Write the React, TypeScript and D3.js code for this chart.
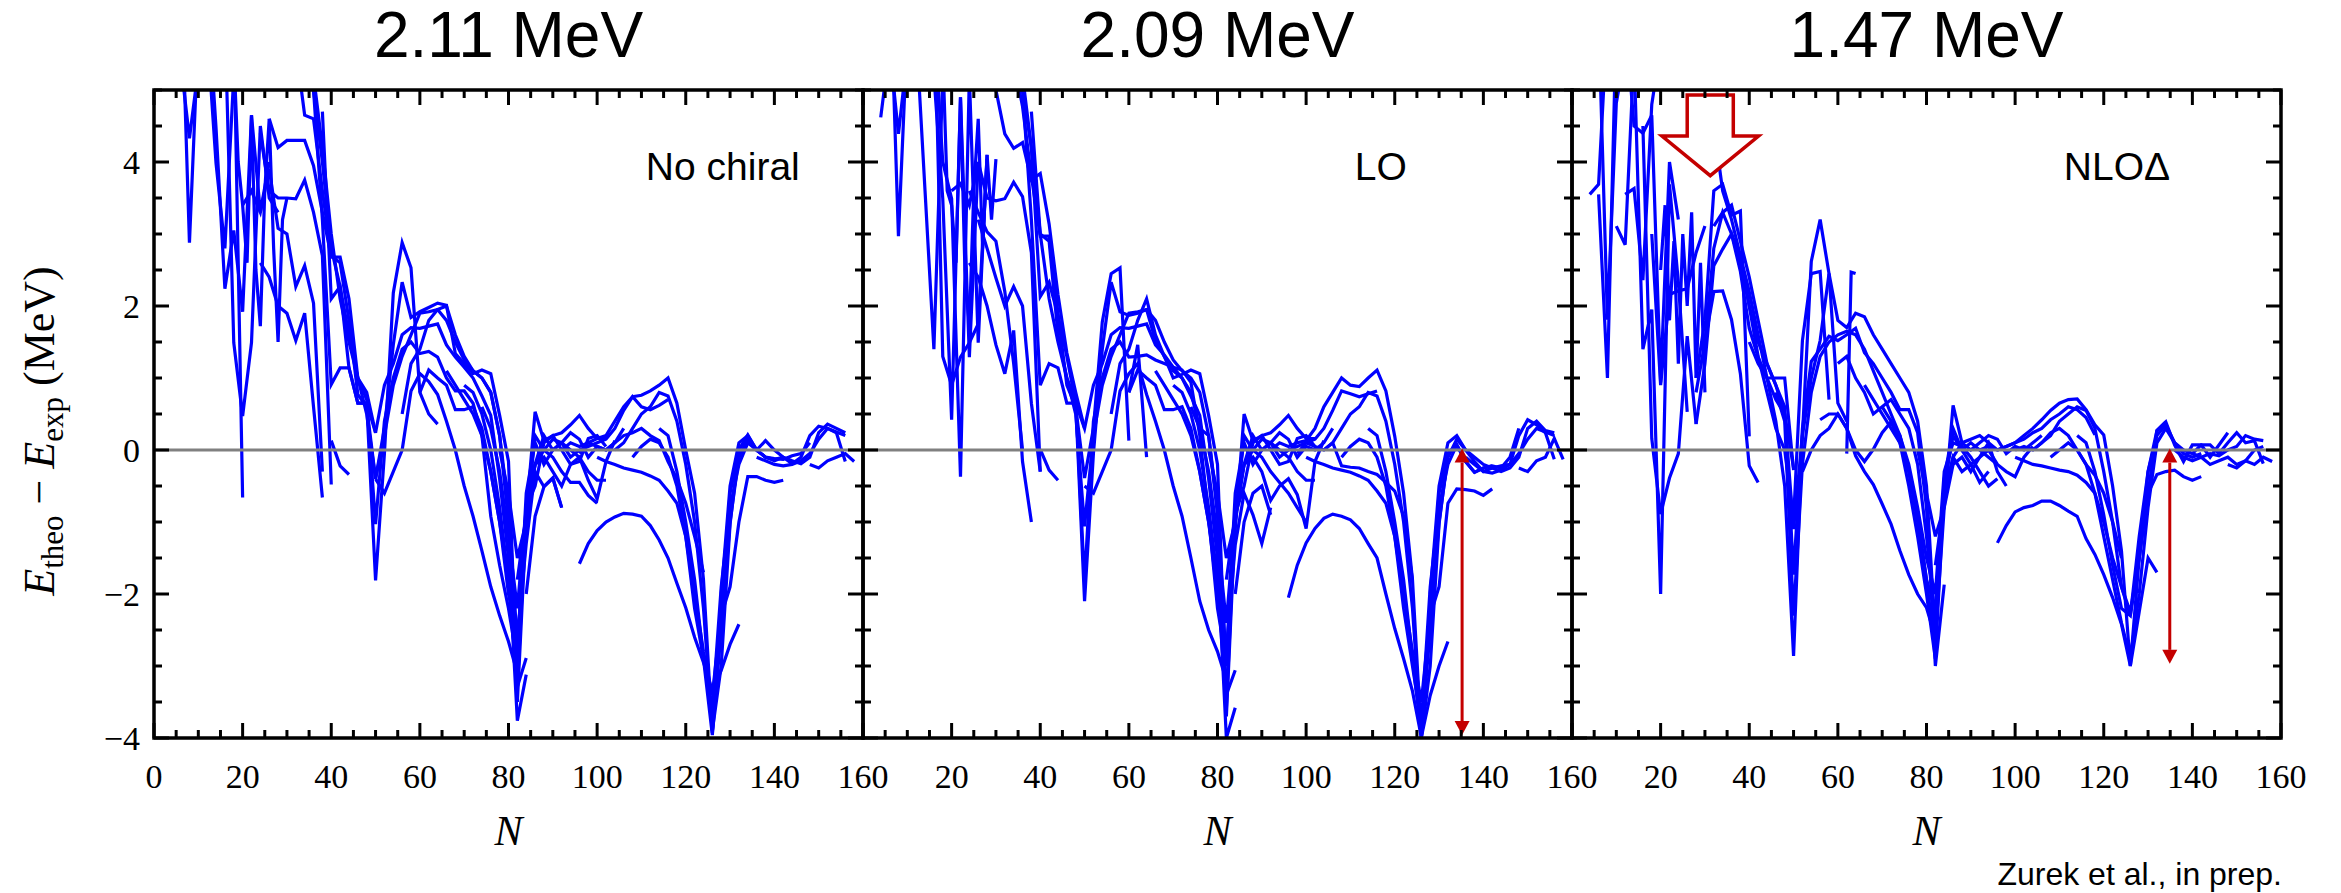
import React from 'react';
import * as d3 from 'd3';

type Chain = { n: number; d?: number; e: number[] };

const panelTitles = ['2.11 MeV', '2.09 MeV', '1.47 MeV'];
const panelLabels = ['No chiral', 'LO', 'NLO\u0394'];
const xTickValues = [0, 20, 40, 60, 80, 100, 120, 140, 160];
const yTickValues = [-4, -2, 0, 2, 4];

// isotopic chains: first N, step in N (default 2), E_theo - E_exp in MeV
const chainsNoChiral: Chain[] = [
  { n: 4, e: [6.2, 5.4, 4.33, 5.3, 6.5] },
  { n: 6, e: [6.8, 2.88, 5.8, 6.6] },
  { n: 10, e: [6.6, 5.8, 3.98, 2.8, 5.2, 6.0] },
  { n: 12, e: [6.4, 4.47, 2.24, 3.05, 1.92, 4.65, 3.3, 4.0] },
  { n: 14, e: [6.8, 6.0, 1.49, 0.47, 1.49, 4.5, 3.5, 3.3] },
  { n: 16, e: [6.5, 5.9, -0.66] },
  { n: 18, d: 1, e: [5.5, 4.0, 3.4, 2.6, 4.65, 2.5, 1.72, 3.6, 4.6, 2.8, 1.5, 3.2, 3.5] },
  { n: 20, e: [3.4, 3.6, 3.3, 3.9, 3.08, 3.0, 2.27, 2.56, 2.04, -0.3] },
  { n: 24, e: [2.6, 2.4, 2.0, 1.9, 1.52, 1.9, 0.6, -0.66] },
  { n: 24, e: [4.4, 3.6, 3.5, 3.5, 3.49, 3.75, 3.3, 2.7, -0.48] },
  { n: 26, e: [4.6, 4.2, 4.3, 4.3, 4.3, 3.95, 3.3, 2.68, 2.68, 2.1, 1.0, 0.8, 0.24] },
  { n: 30, e: [6.0, 5.6, 4.65, 4.6, 3.6, 2.7, 2.6, 1.8, 0.77, 0.6, -0.4, 0.3, 1.46, 2.33, 1.84, 1.92, 1.98, 2.04, 2.01, 1.34, 1.2, 1.06, 1.11, 1.06, 0.48, -0.16, -3.29, -2.89] },
  { n: 32, e: [6.5, 5.8, 5.0, 4.0, 2.8, 2.27, 1.14, 0.65, 0.65, -1.81, -0.05, 2.18, 2.88, 2.53, 0.8, 0.5, 0.36] },
  { n: 34, e: [6.0, 5.2, 4.2, 3.0, 2.1, 1.5, 1.0, 0.7, -1.03, 0.4, 1.0, 1.4, 1.5, 1.34, 1.37, 1.29, 1.0, 0.82, 0.82, 0.65, 0.2, -0.92, -1.6, -2.2, -2.95] },
  { n: 36, e: [5.0, 3.2, 0.91, 1.14, 1.14, 0.65, 0.65, 0.24, 0.9, 1.2, 1.6, 1.7, 1.69, 1.72, 1.75, 1.46, 1.29, 1.15, 1.0, 0.75, 0.48, -0.4, -1.5, -3.76, -3.12] },
  { n: 40, e: [0.13, -0.22, -0.34] },
  { n: 38, e: [4.7, 2.1, 2.27, 1.6, 1.0, 0.5, -0.4, 0.2, 0.9, 1.3, 1.6, 1.9, 1.92, 1.95, 1.8, 1.5, 1.25, 1.1, 1.0, 0.8, 0.2, -0.8, -2.7, -0.9, 0.53, 0.13, 0.2, 0.24, 0.35, 0.48, 0.3, 0.16, 0.16] },
  { n: 50, e: [-0.4, -0.6, -0.3, 0.0, 0.82, 1.06, 0.95, 0.77, 0.4, 0.0, -0.5, -0.92, -1.4, -1.9, -2.3, -2.66, -3.1] },
  { n: 56, e: [0.5, 1.2, 1.4, 1.8, 1.95, 2.0, 1.6, 1.3, 1.1, 1.0, 0.8, 0.2, -1.0, -3.5, -1.0, 0.2, 0.0, 0.15, 0.1, -0.1, 0.0] },
  { n: 60, e: [0.8, 1.11, 1.0, 0.9, 0.56, 0.56, 0.6, 0.3, -0.3, -1.0, -1.8, -2.9, -0.6, 0.1, -0.2, 0.0, 0.1, 0.0, -0.1, -0.3, -0.42, -0.42] },
  { n: 66, e: [1.1, 0.9, 0.7, 0.5, 0.2, -0.3, -1.0, -2.0, -2.6, -1.3, -0.3, -0.51, -0.39, -0.8] },
  { n: 70, e: [0.9, 0.8, 0.5, 0.0, -0.8, -1.8, -3.3, -0.8, -0.2, 0.0, -0.1, -0.3, -0.45, -0.45, -0.63, -0.74] },
  { n: 74, e: [0.6, 0.3, -0.3, -1.2, -2.2, -0.8, -0.5, 0.1, 0.2, 0.0, -0.2, -0.16, 0.16, 0.2, 0.05] },
  { n: 78, e: [0.0, -0.6, -1.5, -1.0, -0.2, -0.1, -0.3, -0.5, -0.2, -0.1, -0.42, -0.68, -0.16, 0.13] },
  { n: 82, e: [-1.8, -0.9, -0.2, 0.2, 0.0, 0.1, 0.24, 0.15, -0.1, 0.05, 0.0, 0.1, 0.3] },
  { n: 84, e: [-2.0, -0.92, -0.51, -0.39, -0.8] },
  { n: 92, e: [0.0, 0.1, 0.05, 0.1, 0.16, 0.2, 0.4, 0.6, 0.74, 0.76, 0.82, 0.9, 1.0, 0.65, 0.0, -0.6, -1.8, -3.93, -2.2, -0.6, 0.0, 0.2] },
  { n: 96, e: [0.0, 0.05, 0.1, 0.15, 0.3, 0.55, 0.74, 0.6, 0.56, 0.62, 0.7] },
  { n: 96, e: [-0.05, 0.1, 0.05, 0.0, 0.1, 0.2, 0.24, 0.3, 0.2, 0.13, -0.16, -0.4, -0.74, -1.2, -1.7] },
  { n: 100, e: [-0.1, -0.16, -0.2, -0.25, -0.28, -0.31, -0.36, -0.42, -0.57, -0.74, -1.2, -2.2, -2.9, -3.6, -1.9, -0.8, -0.2, 0.1, 0.0, -0.1, -0.13, -0.1] },
  { n: 96, e: [-1.58, -1.3, -1.12, -1.0, -0.93, -0.88, -0.89, -0.92, -1.05, -1.25, -1.5, -1.85, -2.19, -2.6, -2.95, -3.35, -3.06, -2.7, -2.42] },
  { n: 104, e: [0.0, 0.1, 0.3, 0.5, 0.6, 0.8, 0.75, 0.4, -0.2, -1.0, -2.2, -3.9, -3.0, -1.03, 0.0, 0.21, 0.0, -0.1, -0.12, -0.13, -0.08, -0.05, 0.1] },
  { n: 108, e: [-0.1, 0.05, 0.15, 0.1, -0.1, -0.5, -1.2, -2.0, -2.8, -3.4, -2.3, -1.9, -1.0, -0.37, -0.37, -0.42, -0.45, -0.42] },
  { n: 114, e: [0.3, 0.2, -0.3, -1.0, -1.8, -2.9, -3.96, -2.5, -1.0, -0.1, 0.15, 0.0, -0.1, -0.15, -0.1, -0.19, -0.1, 0.2, 0.33, 0.3, 0.24, -0.16] },
  { n: 128, e: [-2.0, -0.5, 0.1, 0.2, 0.0, 0.13, 0.0, -0.1, -0.15, -0.19, -0.1, 0.24, 0.36, 0.3, 0.24] },
  { n: 136, e: [-0.1, -0.15, -0.2, -0.22, -0.2, -0.15, -0.05, 0.15, 0.3, 0.25, 0.2] },
  { n: 148, e: [-0.2, -0.25, -0.15, -0.1, -0.05, -0.16] },
];

const chainsLO: Chain[] = [
  { n: 4, e: [4.62, 5.6, 4.39, 5.5, 6.5] },
  { n: 6, e: [6.8, 2.97, 5.8, 6.6] },
  { n: 10, e: [6.6, 5.8, 3.6, 1.4, 5.2, 6.0] },
  { n: 12, e: [6.4, 5.5, 5.2, 3.49, 0.42, 4.9, 1.29, 4.0] },
  { n: 14, e: [6.8, 6.0, 4.0, 3.49, -0.37, 5.2, 1.49, 4.1] },
  { n: 16, e: [6.5, 1.3, 0.9, 1.29, 1.49, 1.75, 4.04] },
  { n: 18, d: 1, e: [5.5, 3.6, 3.4, 2.6, 4.9, 2.5, 1.72, 3.6, 4.6, 2.8, 4.1, 3.2, 4.04] },
  { n: 20, e: [3.6, 3.7, 3.4, 4.0, 3.5, 3.46, 3.49, 3.72, 3.52, 2.74, -0.3] },
  { n: 24, e: [2.6, 2.4, 2.0, 1.46, 1.06, 1.66, -0.16, -1.0] },
  { n: 24, e: [3.6, 3.3, 3.03, 2.9, 2.2, 1.2, 0.0] },
  { n: 26, e: [3.2, 2.8, 2.39, 2.0, 2.27, 2.0, 0.65, -0.3] },
  { n: 28, e: [5.5, 5.0, 4.39, 4.19, 4.27, 3.75, 3.84, 3.14, 2.16, 1.35, 0.8, 0.3] },
  { n: 30, e: [6.0, 5.6, 5.4, 4.77, 3.8, 2.97, 2.97, 1.9, 0.9, 0.6, -0.39, 0.3, 1.78, 2.45, 2.53, 0.13] },
  { n: 32, e: [6.5, 5.8, 5.0, 4.2, 2.13, 2.33, 1.87, 1.3, 0.65, -2.1, -0.05, 1.4, 2.33, 1.92, 1.87, 1.9, 1.95, 1.52, 1.3, 1.0, 1.05, 1.11, 1.06, 0.48, -0.2, -3.4, -3.06] },
  { n: 34, e: [6.0, 5.2, 4.2, 3.0, 2.1, 1.5, 1.0, 0.7, -1.84, 0.4, 1.0, 1.4, 1.5, 1.29, 1.3, 1.32, 1.25, 1.2, 1.15, 1.11, 0.94, 0.2, -0.92, -2.2, -2.94] },
  { n: 36, e: [5.0, 3.2, 0.9, 1.2, 1.14, 0.65, 0.65, 0.3, 0.9, 1.2, 1.6, 1.7, 1.69, 1.72, 1.75, 1.46, 1.32, 1.15, 1.0, 0.75, 0.48, -0.4, -1.5, -4.0, -3.58] },
  { n: 40, e: [0.01, -0.28, -0.42] },
  { n: 38, e: [4.7, 3.0, 2.9, 1.6, 1.0, 0.5, -1.06, 0.2, 0.9, 1.3, 1.6, 1.9, 1.92, 1.95, 1.8, 1.5, 1.25, 1.1, 1.0, 0.8, 0.2, -0.8, -3.0, -1.1, 0.5, 0.13, 0.2, 0.24, 0.35, 0.48, 0.3, 0.16, 0.16] },
  { n: 50, e: [-0.5, -0.6, -0.3, 0.0, 0.82, 1.06, 1.2, 0.77, 0.4, 0.0, -0.5, -0.92, -1.5, -2.1, -2.5, -2.8, -3.2] },
  { n: 56, e: [0.5, 1.2, 1.4, 1.8, 2.1, 1.6, 1.3, 1.1, 1.0, 0.8, 0.3, 0.2, -0.9, -3.7, -1.0, 0.2, 0.0, 0.15, 0.1, -0.1, 0.0] },
  { n: 60, e: [0.8, 1.46, -0.1] },
  { n: 60, e: [0.8, 1.11, 1.0, 0.9, 0.56, 0.56, 0.6, 0.3, -0.3, -1.0, -1.8, -2.9, -0.6, 0.1, -0.2, 0.0, 0.1, 0.0, -0.1, -0.3, -0.42, -0.42] },
  { n: 66, e: [1.1, 0.9, 0.7, 0.5, 0.2, -0.3, -1.0, -2.0, -2.8, -1.32, -0.6, -0.9, -1.3, -0.8] },
  { n: 70, e: [0.9, 0.8, 0.5, 0.0, -0.8, -1.8, -3.6, -0.8, -0.2, 0.0, -0.1, -0.3, -0.45, -0.6, -0.8, -1.0] },
  { n: 74, e: [0.6, 0.3, -0.3, -1.2, -2.4, -0.9, -0.5, 0.1, 0.2, 0.0, -0.2, -0.16, 0.16, 0.2, 0.05] },
  { n: 78, e: [0.0, -0.6, -1.5, -1.0, -0.2, -0.1, -0.3, -0.7, -0.5, -0.4, -0.62, -1.09, -0.16, 0.13] },
  { n: 82, e: [-1.8, -0.9, -0.2, 0.2, 0.0, 0.1, 0.24, 0.15, -0.1, 0.05, 0.0, 0.1, 0.3] },
  { n: 84, e: [-2.0, -1.0, -0.6, -0.5, -0.9] },
  { n: 92, e: [0.0, 0.1, 0.05, 0.1, 0.13, 0.3, 0.6, 0.8, 1.0, 0.9, 0.88, 1.0, 1.11, 0.82, 0.19, -0.6, -1.8, -4.0, -2.2, -0.6, -0.05, 0.07] },
  { n: 96, e: [0.0, 0.05, 0.1, 0.15, 0.3, 0.55, 0.82, 0.78, 0.74, 0.78, 0.82] },
  { n: 98, e: [-0.05, 0.1, 0.05, 0.0, 0.1, -0.22, -0.24, -0.25, -0.3, -0.34, -0.45, -0.57, -0.92, -1.81] },
  { n: 100, e: [-0.1, -0.16, -0.2, -0.25, -0.28, -0.31, -0.36, -0.42, -0.57, -0.74, -1.2, -2.2, -3.0, -3.8, -1.9, -0.8, -0.2, 0.07, -0.16, -0.31, -0.25, -0.22] },
  { n: 96, e: [-2.05, -1.6, -1.29, -1.09, -0.95, -0.89, -0.92, -0.97, -1.09, -1.3, -1.5, -2.0, -2.48, -2.9, -3.35, -3.99, -3.41, -3.0, -2.66] },
  { n: 104, e: [0.0, 0.1, 0.3, 0.5, 0.6, 0.8, 0.75, 0.4, -0.2, -1.0, -2.2, -4.0, -3.0, -1.03, -0.05, 0.07, -0.16, -0.31, -0.25, -0.22, -0.25, -0.1, 0.3] },
  { n: 108, e: [-0.1, 0.05, 0.15, 0.1, -0.1, -0.5, -1.2, -2.0, -2.8, -3.5, -2.3, -1.9, -0.74, -0.54, -0.55, -0.57, -0.63, -0.54] },
  { n: 114, e: [0.3, 0.2, -0.3, -1.0, -1.8, -2.9, -3.96, -2.5, -1.0, -0.1, 0.15, 0.0, -0.16, -0.3, -0.25, -0.22, -0.2, 0.2, 0.42, 0.35, 0.24, -0.13] },
  { n: 128, e: [-2.0, -0.5, 0.1, 0.2, 0.0, -0.1, -0.2, -0.25, -0.3, -0.25, -0.1, 0.3, 0.4, 0.27, 0.24] },
  { n: 136, e: [-0.1, -0.2, -0.3, -0.32, -0.28, -0.2, -0.05, 0.15, 0.3, 0.25, 0.2] },
  { n: 148, e: [-0.25, -0.3, -0.15, -0.1, 0.16, -0.13] },
];

const chainsNLODelta: Chain[] = [
  { n: 4, e: [3.55, 3.69, 6.0, 6.5] },
  { n: 6, e: [3.55, 1.0, 6.0] },
  { n: 6, e: [6.0, 1.81, 4.82, 5.5] },
  { n: 10, e: [3.11, 2.85, 5.5, 6.0] },
  { n: 12, e: [3.55, 3.63, 2.36, 4.8, 5.6] },
  { n: 12, e: [6.0, 4.5, 4.4, 4.65, 0.94, 4.0, 3.2] },
  { n: 14, e: [5.5, 1.4, 1.95, -2.0, 3.69, 2.33, 0.53] },
  { n: 16, e: [4.5, 0.16, -0.89, -0.39, -0.05, 1.58, 0.36] },
  { n: 18, e: [3.0, 0.9, 2.16, 2.21, 2.24, 2.74, 3.11] },
  { n: 20, d: 1, e: [2.5, 3.4, 1.8, 2.9, 1.2, 3.0, 2.0, 3.3, 1.0, 2.6, 0.8] },
  { n: 28, e: [1.0, 1.8, 3.6, 3.69, 3.26, 3.32, 0.19] },
  { n: 28, e: [0.36, 1.2, 2.56, 2.79, 3.0, 2.48, 1.69, 1.29, 1.0, 1.0, 1.0, -0.28] },
  { n: 28, e: [0.8, 1.5, 2.2, 2.21, 1.81, 1.06, -0.22, -0.45] },
  { n: 32, e: [3.11, 3.3, 3.4, 2.9, 2.4, 1.8, 1.2, 0.9, 0.5, -0.25] },
  { n: 30, e: [1.5, 2.8, 3.3, 3.0, 2.6, 2.0, 1.3, 0.8, 0.3, 0.0, -0.97, 1.52, 2.45, 2.48, 0.7] },
  { n: 32, e: [4.5, 3.6, 3.2, 2.7, 2.2, 1.6, 1.0, 0.4, -0.5, -2.86, 0.2, 2.62, 3.2, 2.45, 0.65, 0.4] },
  { n: 36, e: [3.0, 2.7, 2.0, 1.5, 1.2, 0.9, 0.6, -1.73, 0.3, 1.23, 1.4, 1.58, 1.52, 1.6, 1.69, 1.35, 1.2, 1.0, 0.8, 0.56, 0.56, 0.24, -0.8, -3.0, -1.87] },
  { n: 40, e: [1.5, 1.2, 1.0, 0.7, 0.5, -1.1, 0.2, 1.0, 1.52, 2.45, 1.8, 1.7, 1.9, 1.85, 1.6, 1.4, 1.2, 1.0, 0.8, 0.4, -0.5, -2.6, -0.8, 0.62, 0.1, 0.15, 0.2, 0.1, 0.0] },
  { n: 46, e: [0.8, 0.4, -2.3, -0.2, 0.8, 1.3, 1.5, 1.6, 1.65, 1.6, 1.4, 1.1, 0.8, 0.5, 0.2, -0.3, -1.0, -1.8, -2.8] },
  { n: 52, e: [-0.3, 0.0, 0.2, 0.3, 0.5, 0.3, -0.08, -0.3, -0.48, -0.75, -1.03, -1.4, -1.73, -2.0, -2.19, -2.6] },
  { n: 56, e: [0.42, 0.5, 0.5, 0.3, 0.0, -0.16, 0.01, 0.24, 0.39, 0.1, -0.5, -1.2, -2.0, -2.9, -0.5, 0.2, 0.0, 0.1, 0.0, -0.1, -0.2] },
  { n: 62, d: 1, e: [-0.05, 2.47, 2.45] },
  { n: 60, e: [1.2, 1.3, 1.0, 0.8, 0.5, 0.6, 0.7, 0.5, 0.3, -0.2, -1.2, -2.4, -0.4, 0.3, 0.0, -0.2, -0.1, 0.1, -0.3, -0.5] },
  { n: 66, e: [0.9, 0.7, 0.5, 0.3, 0.1, -0.3, -0.9, -1.8, -2.2, -0.6, -0.1, -0.3, -0.2, -0.45, -0.3] },
  { n: 70, e: [0.6, 0.4, 0.2, -0.2, -0.8, -1.5, -2.0, -0.3, 0.1, 0.05, -0.1, -0.3, -0.5, -0.4] },
  { n: 78, e: [0.0, -0.6, -1.2, -0.8, -0.2, -0.1, -0.3, -0.1, 0.0, -0.2, -0.3, -0.37, -0.1, 0.05] },
  { n: 82, e: [-1.6, -0.7, -0.1, 0.1, 0.0, 0.1, 0.2, 0.15, -0.05, 0.05, 0.0, 0.1, 0.2] },
  { n: 92, e: [0.0, 0.05, 0.0, 0.05, 0.1, 0.2, 0.3, 0.42, 0.55, 0.65, 0.7, 0.71, 0.56, 0.35, 0.21, -0.5, -1.4, -3.0, -1.5, -0.3, 0.27, 0.39] },
  { n: 96, e: [0.0, 0.05, 0.1, 0.15, 0.24, 0.3, 0.42, 0.5, 0.6, 0.56, 0.45, 0.21] },
  { n: 100, e: [0.0, 0.05, 0.0, 0.1, 0.24, 0.3, 0.2, 0.0, -0.2, -0.35, -0.6, -1.0, -1.5] },
  { n: 100, e: [-0.1, -0.15, -0.2, -0.22, -0.25, -0.28, -0.3, -0.35, -0.45, -0.6, -1.0, -1.5, -1.9, -2.25, -1.5, -0.6, -0.34, -0.3, -0.28, -0.37, -0.42, -0.37] },
  { n: 96, e: [-1.29, -1.05, -0.86, -0.8, -0.77, -0.71, -0.71, -0.77, -0.85, -0.92, -1.23, -1.45, -1.73, -2.05, -2.42, -3.0, -2.25, -1.5, -1.7] },
  { n: 104, e: [0.0, 0.1, 0.2, 0.4, 0.5, 0.6, 0.55, 0.3, -0.3, -1.0, -1.9, -2.3, -1.5, -0.6, 0.27, 0.39, 0.07, -0.16, 0.07, 0.07, -0.1, 0.07, 0.24] },
  { n: 108, e: [-0.1, 0.0, 0.1, 0.0, -0.2, -0.6, -1.2, -1.8, -2.4, -2.9, -2.0, -0.8, 0.1, 0.3, 0.1, -0.05, -0.1, -0.05] },
  { n: 114, e: [0.2, 0.1, -0.3, -0.9, -1.6, -2.2, -2.3, -1.2, -0.3, 0.2, 0.35, 0.1, 0.0, -0.05, 0.07, 0.07, -0.05, 0.1, 0.24, 0.1, 0.13, -0.19] },
  { n: 136, e: [0.0, -0.1, -0.15, -0.1, -0.05, -0.08, 0.0, 0.05, 0.2, 0.15, 0.13] },
  { n: 140, e: [-0.05, -0.1, -0.2, -0.15, -0.1, -0.2, -0.15, 0.0, 0.05] },
  { n: 148, e: [-0.2, -0.25, -0.15, -0.2, -0.1, -0.16] },
];

const panelChains = [chainsNoChiral, chainsLO, chainsNLODelta];

// red double arrows (gap at N = 126 shell closure)
const gapArrows = [null, { n: 135.2, top: 0.02, bottom: -3.96 }, { n: 134.9, top: 0.02, bottom: -2.97 }];
// hollow arrow in the NLO-Delta panel
const hintArrow = { n: 31.2, half: 5.2, headHalf: 10.9, top: 4.93, neck: 4.36, tip: 3.81 };

const W = 2341;
const H = 893;
const left0 = 154;
const panelW = 709;
const top = 90;
const bottom = 738;
const red = '#c40000';
const serif = "'Liberation Serif', 'DejaVu Serif', serif";
const sans = "'Liberation Sans', Arial, sans-serif";

function Panel({ idx }: { idx: number }) {
  const x0 = left0 + idx * panelW;
  const x = d3.scaleLinear().domain([0, 160]).range([x0, x0 + panelW]);
  const y = d3.scaleLinear().domain([-4, 5]).range([bottom, top]);
  const line = d3.line<[number, number]>().x((d) => x(d[0])).y((d) => y(d[1]));
  const clipId = `clip-${idx}`;
  const xMinor = d3.range(0, 161, 5);
  const yMinor = d3.range(-4, 5.001, 0.5);
  const arrow = gapArrows[idx];
  const hl = 14;
  const hw = 7.5;

  return (
    <g>
      <defs>
        <clipPath id={clipId}>
          <rect x={x0} y={top} width={panelW} height={bottom - top} />
        </clipPath>
      </defs>
      <g clipPath={`url(#${clipId})`}>
        {panelChains[idx].map((c, i) => {
          const pts = c.e.map((v, k) => [c.n + k * (c.d ?? 2), v] as [number, number]);
          return <path key={i} d={line(pts) ?? ''} fill="none" stroke="#0000ff" strokeWidth={3.2} strokeLinejoin="miter" />;
        })}
      </g>
      <line x1={x0} x2={x0 + panelW} y1={y(0)} y2={y(0)} stroke="#808080" strokeWidth={3} />

      {arrow && (
        <g>
          <line x1={x(arrow.n)} x2={x(arrow.n)} y1={y(arrow.top) + hl} y2={y(arrow.bottom) - hl} stroke={red} strokeWidth={3} />
          <path d={`M${x(arrow.n)},${y(arrow.top)} L${x(arrow.n) - hw},${y(arrow.top) + hl} L${x(arrow.n) + hw},${y(arrow.top) + hl} Z`} fill={red} />
          <path d={`M${x(arrow.n)},${y(arrow.bottom)} L${x(arrow.n) - hw},${y(arrow.bottom) - hl} L${x(arrow.n) + hw},${y(arrow.bottom) - hl} Z`} fill={red} />
        </g>
      )}
      {idx === 2 && (
        <path
          d={`M${x(hintArrow.n - hintArrow.half)},${y(hintArrow.top)} L${x(hintArrow.n + hintArrow.half)},${y(hintArrow.top)} L${x(hintArrow.n + hintArrow.half)},${y(hintArrow.neck)} L${x(hintArrow.n + hintArrow.headHalf)},${y(hintArrow.neck)} L${x(hintArrow.n)},${y(hintArrow.tip)} L${x(hintArrow.n - hintArrow.headHalf)},${y(hintArrow.neck)} L${x(hintArrow.n - hintArrow.half)},${y(hintArrow.neck)} Z`}
          fill="#ffffff"
          stroke={red}
          strokeWidth={3.5}
        />
      )}

      {/* ticks, inward on all four sides */}
      {xMinor.map((v) => {
        const len = v % 20 === 0 ? 15 : 8;
        return (
          <g key={`xt${v}`} stroke="#000" strokeWidth={3}>
            <line x1={x(v)} x2={x(v)} y1={bottom} y2={bottom - len} />
            <line x1={x(v)} x2={x(v)} y1={top} y2={top + len} />
          </g>
        );
      })}
      {yMinor.map((v) => {
        const len = Math.abs(v % 2) < 1e-6 ? 15 : 8;
        return (
          <g key={`yt${v}`} stroke="#000" strokeWidth={3}>
            <line x1={x0} x2={x0 + len} y1={y(v)} y2={y(v)} />
            <line x1={x0 + panelW} x2={x0 + panelW - len} y1={y(v)} y2={y(v)} />
          </g>
        );
      })}
      <rect x={x0} y={top} width={panelW} height={bottom - top} fill="none" stroke="#000" strokeWidth={3.5} />

      {xTickValues
        .filter((v) => idx === 0 || v !== 0)
        .map((v) => (
          <text key={`xl${v}`} x={x(v)} y={788} textAnchor="middle" fontFamily={serif} fontSize={34}>
            {v}
          </text>
        ))}
      {idx === 0 &&
        yTickValues.map((v) => (
          <text key={`yl${v}`} x={x0 - 14} y={y(v)} dy="0.34em" textAnchor="end" fontFamily={serif} fontSize={34}>
            {v < 0 ? `\u2212${Math.abs(v)}` : v}
          </text>
        ))}

      <text x={x(80)} y={845} textAnchor="middle" fontFamily={serif} fontStyle="italic" fontSize={42}>
        N
      </text>
      <text x={x(80)} y={57} textAnchor="middle" fontFamily={sans} fontSize={64}>
        {panelTitles[idx]}
      </text>
      <text x={x(111)} y={y(3.75)} fontFamily={sans} fontSize={39}>
        {panelLabels[idx]}
      </text>
    </g>
  );
}

export default function App() {
  return (
    <svg width={W} height={H} style={{ position: 'absolute', left: 0, top: 0, background: '#fff' }}>
      <rect width={W} height={H} fill="#fff" />
      {[0, 1, 2].map((i) => (
        <Panel key={i} idx={i} />
      ))}
      <text transform="translate(54,431) rotate(-90)" textAnchor="middle" fontFamily={serif} fontSize={44}>
        <tspan fontStyle="italic">E</tspan>
        <tspan fontSize={31} dy={9}>theo</tspan>
        <tspan dy={-9}>{' \u2212 '}</tspan>
        <tspan fontStyle="italic">E</tspan>
        <tspan fontSize={31} dy={9}>exp</tspan>
        <tspan dy={-9}>{' (MeV)'}</tspan>
      </text>
      <text x={2282} y={885} textAnchor="end" fontFamily={sans} fontSize={32}>
        Zurek et al., in prep.
      </text>
    </svg>
  );
}
